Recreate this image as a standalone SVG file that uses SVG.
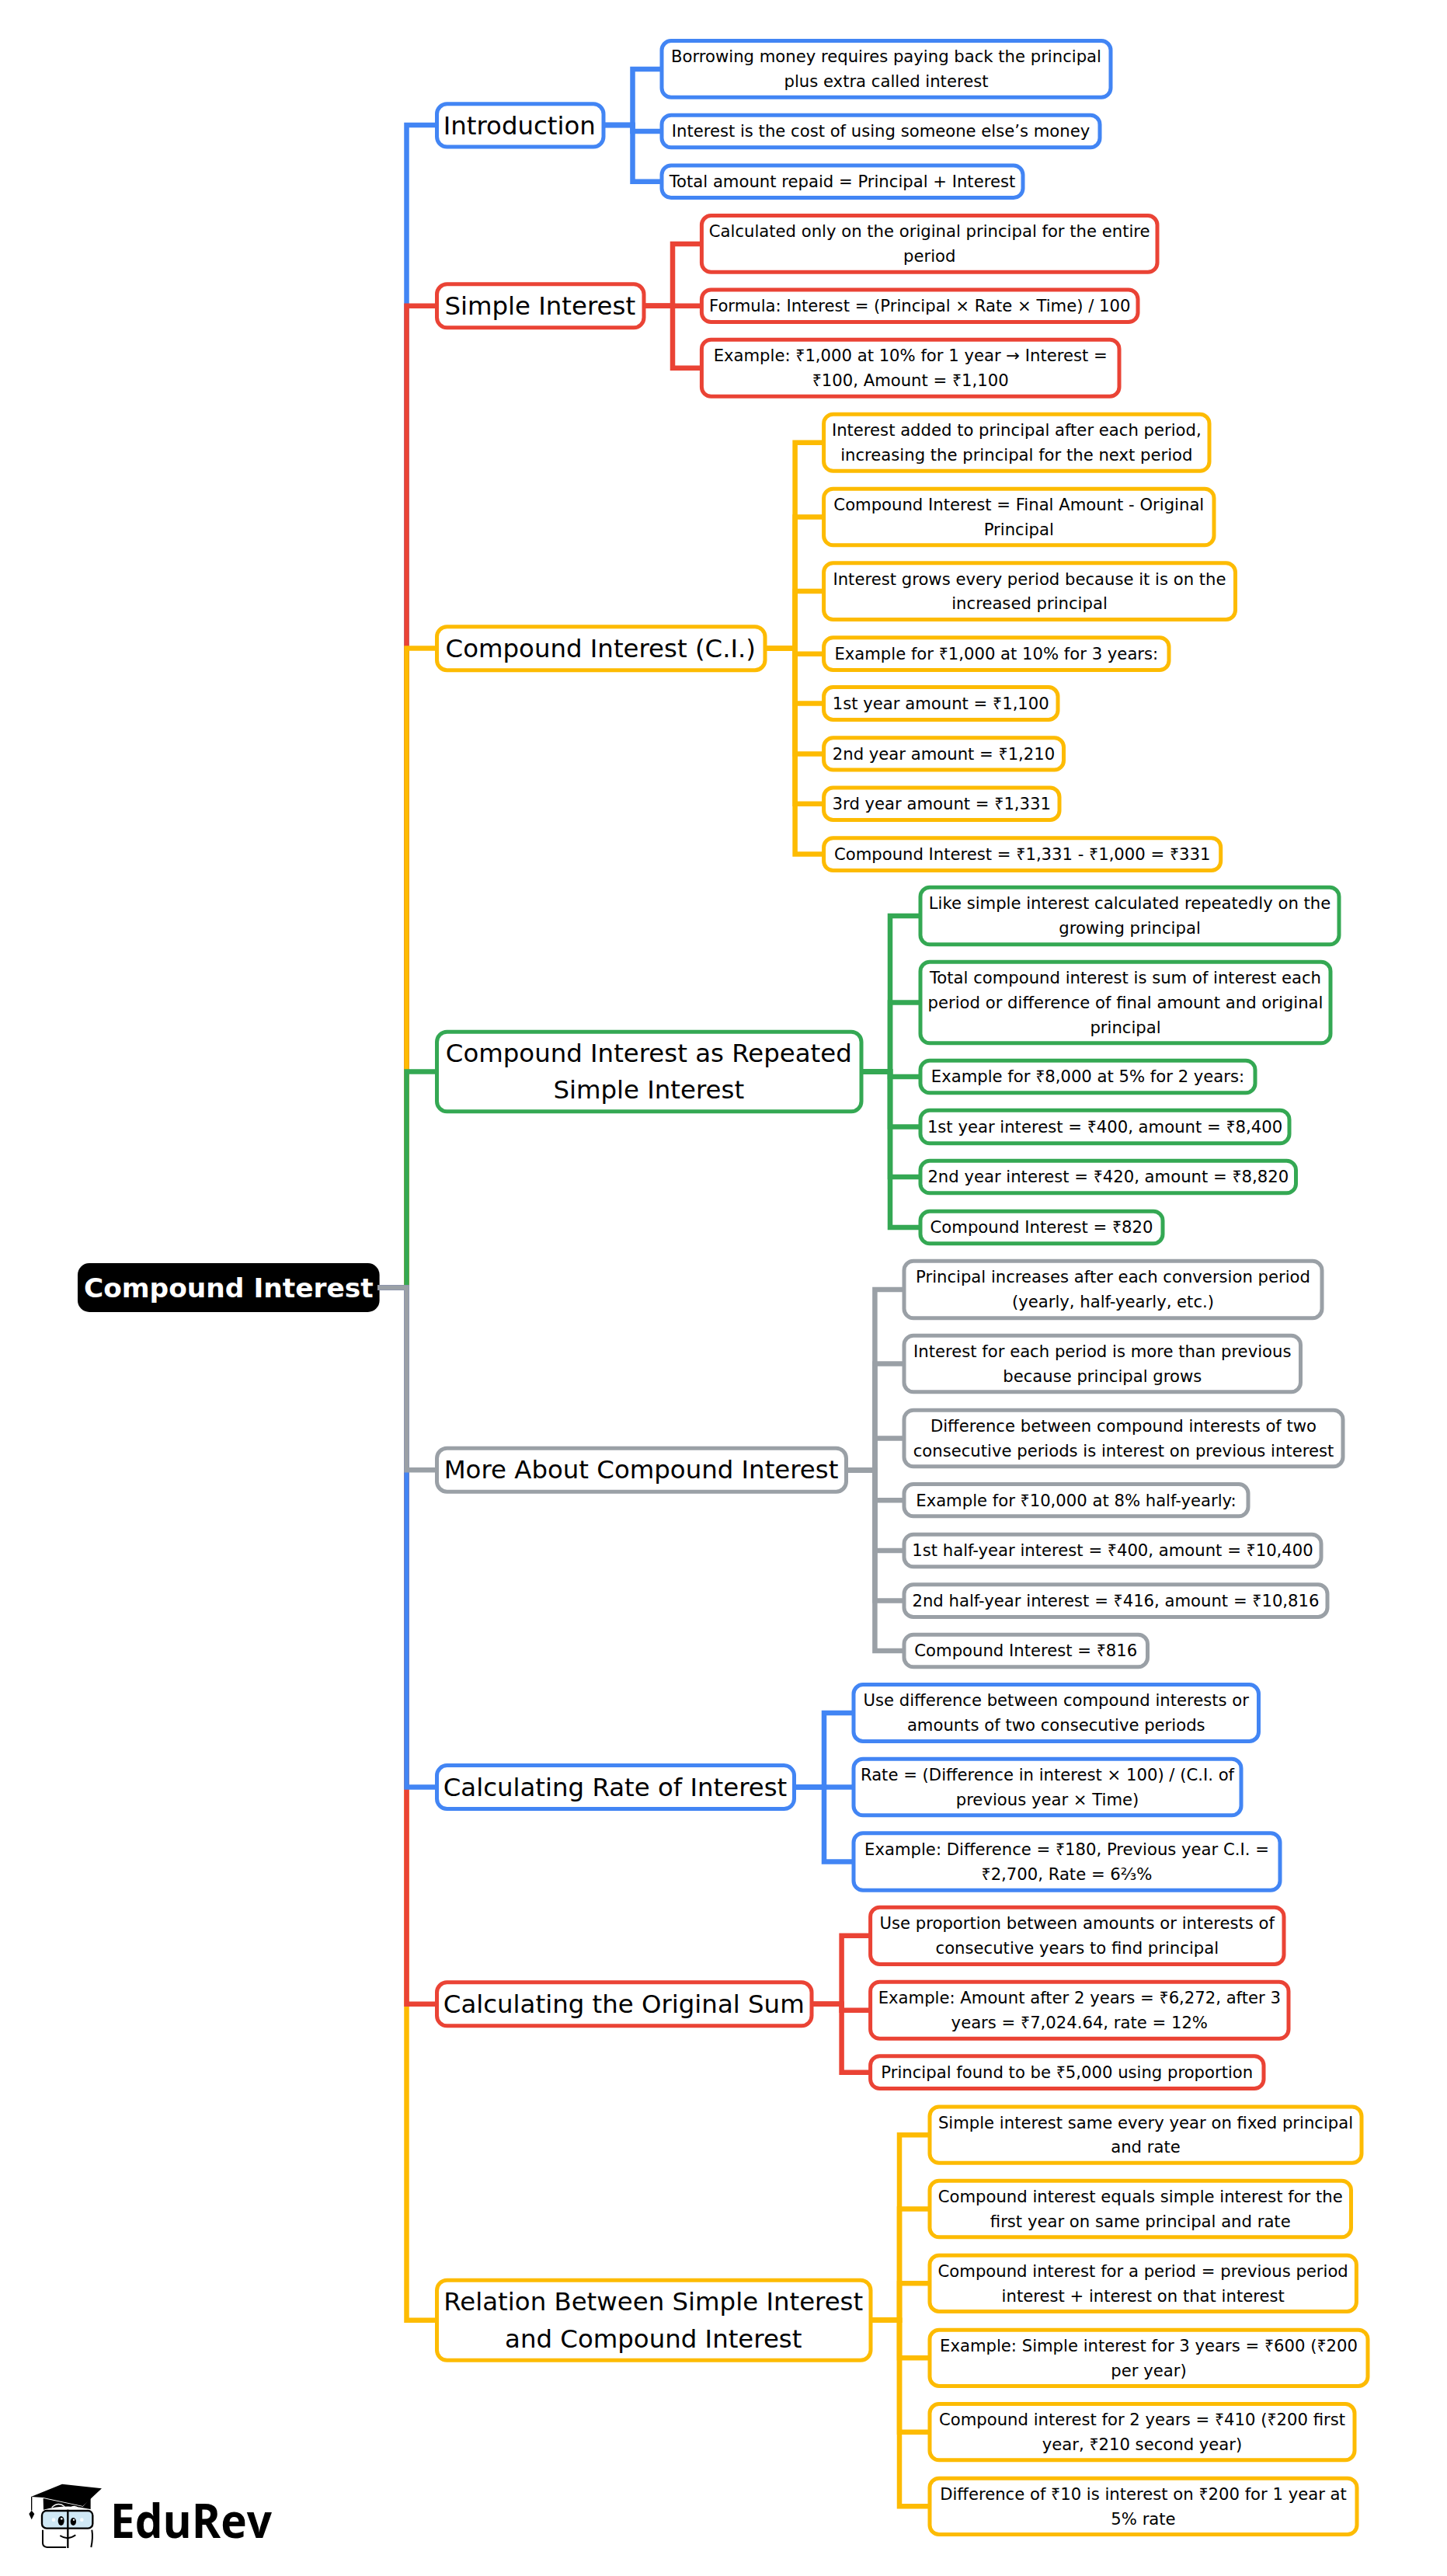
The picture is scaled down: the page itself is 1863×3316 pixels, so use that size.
<svg xmlns="http://www.w3.org/2000/svg" width="1863" height="3316" viewBox="0 0 1863 3316">
<style>
text{font-family:"DejaVu Sans",sans-serif;fill:#000;text-anchor:middle}
.l1 text{font-size:32.4px}
.l2 text{font-size:21.17px}
.r{font-family:"Noto Sans",sans-serif}
rect{fill:#fff;stroke-width:5}
.l1 rect{rx:13px;ry:13px}
.l2 rect{rx:12px;ry:12px}
.blue rect{stroke:#4285F4}.red rect{stroke:#EA4335}.yel rect{stroke:#FDBB02}.grn rect{stroke:#34A853}.gry rect{stroke:#9AA0A6}
#connectors path{fill:none;stroke-width:6.5}
path.blue{stroke:#4285F4}path.red{stroke:#EA4335}path.yel{stroke:#FDBB02}path.grn{stroke:#34A853}path.gry{stroke:#9AA0A6}
</style>
<rect width="1863" height="3316" style="stroke:none"/>
<g id="nodes">
<g id="root"><rect x="100" y="1626" width="388.6" height="63" rx="15" ry="15" style="fill:#000;stroke:none"/><text x="294.3" y="1670" font-size="34.4" font-weight="700" style="fill:#fff">Compound Interest</text></g>

<g class="l1 blue" id="n-intro"><rect x="562.5" y="133.8" width="214.5" height="55.2"/><text x="668.75" y="172.6">Introduction</text></g>
<g class="l2 blue" id="n-intro-1"><rect x="852" y="52.6" width="578" height="72.7"/><text x="1141" y="80.35">Borrowing money requires paying back the principal</text><text x="1141" y="112.15">plus extra called interest</text></g>
<g class="l2 blue" id="n-intro-2"><rect x="852" y="148.2" width="564" height="41.6"/><text x="1134" y="176.3">Interest is the cost of using someone else’s money</text></g>
<g class="l2 blue" id="n-intro-3"><rect x="852" y="212.9" width="465" height="41.7"/><text x="1084.5" y="241">Total amount repaid = Principal + Interest</text></g>

<g class="l1 red" id="n-simple"><rect x="562.5" y="365.8" width="266.5" height="56"/><text x="695.25" y="404.8">Simple Interest</text></g>
<g class="l2 red" id="n-simple-1"><rect x="903.4" y="277.6" width="586.6" height="72.7"/><text x="1196.7" y="305.35">Calculated only on the original principal for the entire</text><text x="1196.7" y="337.15">period</text></g>
<g class="l2 red" id="n-simple-2"><rect x="903.4" y="372.9" width="561.6" height="41.7"/><text x="1184.2" y="401">Formula: Interest = (Principal × Rate × Time) / 100</text></g>
<g class="l2 red" id="n-simple-3"><rect x="903.4" y="437.2" width="537.6" height="73.1"/><text x="1172.2" y="465.15">Example: <tspan class="r">₹</tspan>1,000 at 10% for 1 year → Interest =</text><text x="1172.2" y="496.95"><tspan class="r">₹</tspan>100, Amount = <tspan class="r">₹</tspan>1,100</text></g>

<g class="l1 yel" id="n-ci"><rect x="562.5" y="806.7" width="422.5" height="56"/><text x="773.25" y="845.6">Compound Interest (C.I.)</text></g>
<g class="l2 yel" id="n-ci-1"><rect x="1060.6" y="533.2" width="496.4" height="73"/><text x="1308.8" y="561.1">Interest added to principal after each period,</text><text x="1308.8" y="592.9">increasing the principal for the next period</text></g>
<g class="l2 yel" id="n-ci-2"><rect x="1060.6" y="629.2" width="502.4" height="72.6"/><text x="1311.8" y="656.9">Compound Interest = Final Amount - Original</text><text x="1311.8" y="688.7">Principal</text></g>
<g class="l2 yel" id="n-ci-3"><rect x="1060.6" y="724.7" width="529.9" height="72.8"/><text x="1325.5" y="752.5">Interest grows every period because it is on the</text><text x="1325.5" y="784.3">increased principal</text></g>
<g class="l2 yel" id="n-ci-4"><rect x="1060.6" y="820.8" width="444.4" height="41.8"/><text x="1282.8" y="849">Example for <tspan class="r">₹</tspan>1,000 at 10% for 3 years:</text></g>
<g class="l2 yel" id="n-ci-5"><rect x="1060.6" y="884.6" width="301.4" height="41.8"/><text x="1211.3" y="912.8">1st year amount = <tspan class="r">₹</tspan>1,100</text></g>
<g class="l2 yel" id="n-ci-6"><rect x="1060.6" y="949.7" width="308.9" height="41.4"/><text x="1215" y="977.7">2nd year amount = <tspan class="r">₹</tspan>1,210</text></g>
<g class="l2 yel" id="n-ci-7"><rect x="1060.6" y="1014" width="303.4" height="41.4"/><text x="1212.3" y="1042">3rd year amount = <tspan class="r">₹</tspan>1,331</text></g>
<g class="l2 yel" id="n-ci-8"><rect x="1060.6" y="1078.7" width="511.1" height="41.8"/><text x="1316.2" y="1106.9">Compound Interest = <tspan class="r">₹</tspan>1,331 - <tspan class="r">₹</tspan>1,000 = <tspan class="r">₹</tspan>331</text></g>

<g class="l1 grn" id="n-rep"><rect x="562.5" y="1328.2" width="546.5" height="102.6"/><text x="835.25" y="1366.7">Compound Interest as Repeated</text><text x="835.25" y="1414.3">Simple Interest</text></g>
<g class="l2 grn" id="n-rep-1"><rect x="1185" y="1142.2" width="539" height="73.6"/><text x="1454.5" y="1170.4">Like simple interest calculated repeatedly on the</text><text x="1454.5" y="1202.2">growing principal</text></g>
<g class="l2 grn" id="n-rep-2"><rect x="1185" y="1238.2" width="528" height="104.6"/><text x="1449" y="1266.1">Total compound interest is sum of interest each</text><text x="1449" y="1297.8">period or difference of final amount and original</text><text x="1449" y="1329.5">principal</text></g>
<g class="l2 grn" id="n-rep-3"><rect x="1185" y="1365.2" width="431" height="41.6"/><text x="1400.5" y="1393.3">Example for <tspan class="r">₹</tspan>8,000 at 5% for 2 years:</text></g>
<g class="l2 grn" id="n-rep-4"><rect x="1185" y="1429.2" width="475" height="42.6"/><text x="1422.5" y="1457.8">1st year interest = <tspan class="r">₹</tspan>400, amount = <tspan class="r">₹</tspan>8,400</text></g>
<g class="l2 grn" id="n-rep-5"><rect x="1185" y="1494.2" width="483.5" height="41.6"/><text x="1426.75" y="1522.3">2nd year interest = <tspan class="r">₹</tspan>420, amount = <tspan class="r">₹</tspan>8,820</text></g>
<g class="l2 grn" id="n-rep-6"><rect x="1185" y="1559.2" width="312" height="41.6"/><text x="1341" y="1587.3">Compound Interest = <tspan class="r">₹</tspan>820</text></g>

<g class="l1 gry" id="n-more"><rect x="562.5" y="1864.2" width="527" height="56"/><text x="825.5" y="1903.3">More About Compound Interest</text></g>
<g class="l2 gry" id="n-more-1"><rect x="1164" y="1623.2" width="538" height="73.6"/><text x="1433" y="1651.4">Principal increases after each conversion period</text><text x="1433" y="1683.2">(yearly, half-yearly, etc.)</text></g>
<g class="l2 gry" id="n-more-2"><rect x="1164" y="1719.2" width="510.5" height="72.6"/><text x="1419.25" y="1746.9">Interest for each period is more than previous</text><text x="1419.25" y="1778.7">because principal grows</text></g>
<g class="l2 gry" id="n-more-3"><rect x="1164" y="1815.2" width="565" height="72.6"/><text x="1446.5" y="1842.9">Difference between compound interests of two</text><text x="1446.5" y="1874.7">consecutive periods is interest on previous interest</text></g>
<g class="l2 gry" id="n-more-4"><rect x="1164" y="1910.6" width="443" height="41.2"/><text x="1385.5" y="1938.5">Example for <tspan class="r">₹</tspan>10,000 at 8% half-yearly:</text></g>
<g class="l2 gry" id="n-more-5"><rect x="1164" y="1975.2" width="537" height="41.6"/><text x="1432.5" y="2003.3">1st half-year interest = <tspan class="r">₹</tspan>400, amount = <tspan class="r">₹</tspan>10,400</text></g>
<g class="l2 gry" id="n-more-6"><rect x="1164" y="2039.7" width="545" height="41.7"/><text x="1436.5" y="2067.8">2nd half-year interest = <tspan class="r">₹</tspan>416, amount = <tspan class="r">₹</tspan>10,816</text></g>
<g class="l2 gry" id="n-more-7"><rect x="1164" y="2104.2" width="313.5" height="41.6"/><text x="1320.75" y="2132.3">Compound Interest = <tspan class="r">₹</tspan>816</text></g>

<g class="l1 blue" id="n-rate"><rect x="562.5" y="2272.6" width="460" height="56"/><text x="792" y="2311.5">Calculating Rate of Interest</text></g>
<g class="l2 blue" id="n-rate-1"><rect x="1099" y="2168.6" width="521.5" height="72.8"/><text x="1359.75" y="2196.4">Use difference between compound interests or</text><text x="1359.75" y="2228.2">amounts of two consecutive periods</text></g>
<g class="l2 blue" id="n-rate-2"><rect x="1099" y="2264.2" width="499" height="72.6"/><text x="1348.5" y="2291.9">Rate = (Difference in interest × 100) / (C.I. of</text><text x="1348.5" y="2323.7">previous year × Time)</text></g>
<g class="l2 blue" id="n-rate-3"><rect x="1099" y="2359.7" width="549" height="73.5"/><text x="1373.5" y="2387.85">Example: Difference = <tspan class="r">₹</tspan>180, Previous year C.I. =</text><text x="1373.5" y="2419.65"><tspan class="r">₹</tspan>2,700, Rate = 6⅔%</text></g>

<g class="l1 red" id="n-sum"><rect x="562.5" y="2551.8" width="482.5" height="56"/><text x="803.25" y="2590.8">Calculating the Original Sum</text></g>
<g class="l2 red" id="n-sum-1"><rect x="1120.6" y="2455.2" width="532.4" height="73.3"/><text x="1386.8" y="2483.25">Use proportion between amounts or interests of</text><text x="1386.8" y="2515.05">consecutive years to find principal</text></g>
<g class="l2 red" id="n-sum-2"><rect x="1120.6" y="2551.2" width="538.4" height="73"/><text x="1389.8" y="2579.1">Example: Amount after 2 years = <tspan class="r">₹</tspan>6,272, after 3</text><text x="1389.8" y="2610.9">years = <tspan class="r">₹</tspan>7,024.64, rate = 12%</text></g>
<g class="l2 red" id="n-sum-3"><rect x="1120.6" y="2646.8" width="506.4" height="41.7"/><text x="1373.8" y="2674.95">Principal found to be <tspan class="r">₹</tspan>5,000 using proportion</text></g>

<g class="l1 yel" id="n-rel"><rect x="562.5" y="2935.2" width="558.5" height="103.1"/><text x="841.25" y="2974">Relation Between Simple Interest</text><text x="841.25" y="3021.6">and Compound Interest</text></g>
<g class="l2 yel" id="n-rel-1"><rect x="1197" y="2712" width="556" height="72.3"/><text x="1475" y="2739.55">Simple interest same every year on fixed principal</text><text x="1475" y="2771.35">and rate</text></g>
<g class="l2 yel" id="n-rel-2"><rect x="1197" y="2807.2" width="542.5" height="72.6"/><text x="1468.25" y="2834.9">Compound interest equals simple interest for the</text><text x="1468.25" y="2866.7">first year on same principal and rate</text></g>
<g class="l2 yel" id="n-rel-3"><rect x="1197" y="2903.2" width="549.4" height="72.2"/><text x="1471.7" y="2930.7">Compound interest for a period = previous period</text><text x="1471.7" y="2962.5">interest + interest on that interest</text></g>
<g class="l2 yel" id="n-rel-4"><rect x="1197" y="2999.2" width="564" height="72.2"/><text x="1479" y="3026.7">Example: Simple interest for 3 years = <tspan class="r">₹</tspan>600 (<tspan class="r">₹</tspan>200</text><text x="1479" y="3058.5">per year)</text></g>
<g class="l2 yel" id="n-rel-5"><rect x="1197" y="3094.6" width="547" height="72.2"/><text x="1470.5" y="3122.1">Compound interest for 2 years = <tspan class="r">₹</tspan>410 (<tspan class="r">₹</tspan>200 first</text><text x="1470.5" y="3153.9">year, <tspan class="r">₹</tspan>210 second year)</text></g>
<g class="l2 yel" id="n-rel-6"><rect x="1197" y="3190.2" width="550" height="72.3"/><text x="1472" y="3217.75">Difference of <tspan class="r">₹</tspan>10 is interest on <tspan class="r">₹</tspan>200 for 1 year at</text><text x="1472" y="3249.55">5% rate</text></g>
</g>

<g id="connectors">
<path class="blue" d="M486 1657.5H523.5V161H564"/>
<path class="red" d="M486 1657.5H523.5V393.8H564"/>
<path class="yel" d="M486 1657.5H523.5V834.6H564"/>
<path class="grn" d="M486 1657.5H523.5V1379.5H564"/>
<path class="yel" d="M486 1657.5H523.5V2986.8H564"/>
<path class="red" d="M486 1657.5H523.5V2579.8H564"/>
<path class="blue" d="M486 1657.5H523.5V2300.5H564"/>
<path class="gry" d="M486 1657.5H523.5V1892.3H564"/>

<path class="blue" d="M775 161H814.5V88.95H853"/>
<path class="blue" d="M775 161H814.5V169H853"/>
<path class="blue" d="M775 161H814.5V233.75H853"/>

<path class="red" d="M827 393.8H866V313.95H904"/>
<path class="red" d="M827 393.8H866V393.75H904"/>
<path class="red" d="M827 393.8H866V473.75H904"/>

<path class="yel" d="M983 834.6H1023.6V569.7H1061"/>
<path class="yel" d="M983 834.6H1023.6V665.5H1061"/>
<path class="yel" d="M983 834.6H1023.6V761.1H1061"/>
<path class="yel" d="M983 834.6H1023.6V841.7H1061"/>
<path class="yel" d="M983 834.6H1023.6V905.5H1061"/>
<path class="yel" d="M983 834.6H1023.6V970.4H1061"/>
<path class="yel" d="M983 834.6H1023.6V1034.7H1061"/>
<path class="yel" d="M983 834.6H1023.6V1099.6H1061"/>

<path class="grn" d="M1107 1379.5H1146V1179H1186"/>
<path class="grn" d="M1107 1379.5H1146V1290.5H1186"/>
<path class="grn" d="M1107 1379.5H1146V1386H1186"/>
<path class="grn" d="M1107 1379.5H1146V1450.5H1186"/>
<path class="grn" d="M1107 1379.5H1146V1515H1186"/>
<path class="grn" d="M1107 1379.5H1146V1580H1186"/>

<path class="gry" d="M1087.5 1892.3H1126.4V1660H1165"/>
<path class="gry" d="M1087.5 1892.3H1126.4V1755.5H1165"/>
<path class="gry" d="M1087.5 1892.3H1126.4V1851.5H1165"/>
<path class="gry" d="M1087.5 1892.3H1126.4V1931.2H1165"/>
<path class="gry" d="M1087.5 1892.3H1126.4V1996H1165"/>
<path class="gry" d="M1087.5 1892.3H1126.4V2060.5H1165"/>
<path class="gry" d="M1087.5 1892.3H1126.4V2125H1165"/>

<path class="blue" d="M1020.6 2300.5H1061V2205H1100"/>
<path class="blue" d="M1020.6 2300.5H1061V2300.5H1100"/>
<path class="blue" d="M1020.6 2300.5H1061V2396.45H1100"/>

<path class="red" d="M1043 2579.8H1083.6V2491.85H1121.6"/>
<path class="red" d="M1043 2579.8H1083.6V2587.7H1121.6"/>
<path class="red" d="M1043 2579.8H1083.6V2667.65H1121.6"/>

<path class="yel" d="M1119 2986.8H1158V2748.15H1198"/>
<path class="yel" d="M1119 2986.8H1158V2843.5H1198"/>
<path class="yel" d="M1119 2986.8H1158V2939.3H1198"/>
<path class="yel" d="M1119 2986.8H1158V3035.3H1198"/>
<path class="yel" d="M1119 2986.8H1158V3130.7H1198"/>
<path class="yel" d="M1119 2986.8H1158V3226.35H1198"/>
</g>

<g id="logo" transform="translate(0 3100) scale(.3333)">
<path d="M120 342L240 293L393 310L320 378L167 345Z" style="fill:#000"/>
<path d="M167 348L320 380L350 345V390Q260 368 168 392Z" style="fill:#000"/>
<path d="M200 383Q225 360 250 380M272 385Q287 372 305 388" style="fill:none;stroke:#fff;stroke-width:4"/>
<path d="M122 342V395" style="fill:none;stroke:#000;stroke-width:4"/>
<path d="M122 395L133 408L122 430L112 408Z" style="fill:#000"/>
<rect x="162" y="396" width="196" height="68" rx="18" ry="18" style="fill:#cfe8f5;stroke:#000;stroke-width:7"/>
<path d="M165 470V520Q165 536 182 537H255M355 470Q360 500 352 537M232 492Q262 512 292 490" style="fill:none;stroke:#000;stroke-width:6"/>
<path d="M262 392V540" style="fill:none;stroke:#000;stroke-width:7"/>
<ellipse cx="236" cy="435" rx="12" ry="18" style="fill:#000"/><ellipse cx="283" cy="438" rx="11" ry="15" style="fill:#000"/>
<circle cx="238" cy="427" r="4" style="fill:#fff"/><circle cx="285" cy="431" r="3.5" style="fill:#fff"/>
<circle cx="207" cy="431" r="7" style="fill:#fff;opacity:.8"/><circle cx="316" cy="431" r="7" style="fill:#fff;opacity:.8"/>
</g>
<text id="logo-text" x="142" y="3267" textLength="208" lengthAdjust="spacingAndGlyphs" style="font-family:'Open Sans',sans-serif;font-size:60px;font-weight:700;text-anchor:start">EduRev</text>
</svg>
